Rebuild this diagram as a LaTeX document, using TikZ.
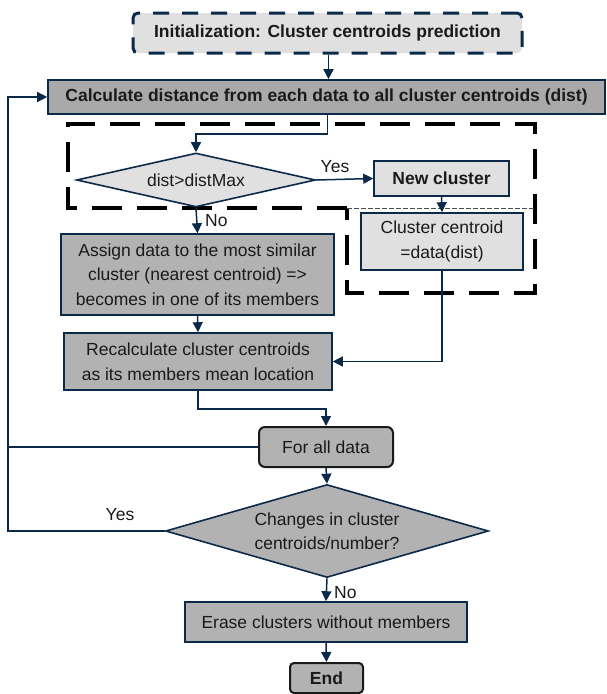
\documentclass[tikz,border=0pt]{standalone}
\usepackage{fontspec}
\setmainfont{Liberation Sans}
\usetikzlibrary{shapes.geometric,arrows.meta}
\definecolor{navy}{HTML}{0B2A4A}
\definecolor{lgray}{HTML}{E0E0E0}
\definecolor{mgray}{HTML}{B2B2B2}
\definecolor{cgray}{HTML}{A9A9A9}
\definecolor{txt}{HTML}{1A1A1A}
\tikzset{
  base/.style={draw=navy, line width=1.6pt, text=txt, inner sep=2pt, align=center, font=\fontsize{17.5}{24.5}\selectfont},
  bld/.style={font=\bfseries\fontsize{17.5}{20}\selectfont},
  lightbox/.style={base, rectangle, fill=lgray},
  darkbox/.style={base, rectangle, fill=mgray},
  decbox/.style={draw=navy, line width=1.6pt, diamond, inner sep=0pt},
  dtext/.style={text=txt, align=center, inner sep=0pt, font=\fontsize{17.5}{24.5}\selectfont},
  arr/.style={draw=navy, line width=1.5pt, -{Triangle[length=10pt,width=10pt]}},
  ln/.style={draw=navy, line width=1.5pt},
  lbl/.style={text=txt, font=\fontsize{17.5}{20}\selectfont, inner sep=0pt}
}
\begin{document}
\begin{tikzpicture}[x=1pt,y=-1pt]
\useasboundingbox (0,0) rectangle (606,694);
% dashed groups
\draw[black, line width=3.5pt, dash pattern=on 30pt off 15pt]
  (347,208) -- (68,208) -- (68,124) -- (535,124) -- (535,293) -- (347,293) -- (347,208);
\draw[black!70, line width=0.6pt, dash pattern=on 5pt off 2pt] (347,208) -- (535,208);
% nodes
\node[lightbox, bld, rounded corners=5pt, line width=3pt, dash pattern=on 16pt off 13pt,
      minimum width=389pt, minimum height=40pt]
  (init) at (327.5,33) {Initialization: Cluster centroids prediction};
\node[darkbox, bld, fill=cgray, minimum width=557pt, minimum height=34pt]
  (calc) at (326.5,97) {Calculate distance from each data to all cluster centroids (dist)};
\node[decbox, fill=lgray, minimum width=239pt, minimum height=54pt] (d1) at (196,180) {};
\node[dtext] (d1t) at (d1.center) {dist>distMax};
\node[lightbox, bld, minimum width=135pt, minimum height=35pt]
  (newc) at (441.5,178.5) {New cluster};
\node[lightbox, minimum width=162pt, minimum height=57pt] (cc) at (442,241.5) {Cluster centroid\\=data(dist)};
\node[darkbox, minimum width=273pt, minimum height=81pt] (assign) at (197.5,274.5)
  {Assign data to the most similar\\cluster (nearest centroid) =>\\becomes in one of its members};
\node[darkbox, minimum width=268pt, minimum height=57pt] (recalc) at (198,361.5)
  {Recalculate cluster centroids\\as its members mean location};
\node[darkbox, draw=txt, rounded corners=6pt, line width=2pt, minimum width=134pt, minimum height=40pt]
  (forall) at (326,447) {For all data};
\node[decbox, fill=mgray, minimum width=323pt, minimum height=93pt] (d2) at (327,531) {};
\node[dtext] (d2t) at (d2.center) {Changes in cluster\\centroids/number?};
\node[darkbox, minimum width=282pt, minimum height=40pt] (erase) at (326,622) {Erase clusters without members};
\node[darkbox, bld, draw=txt, rounded corners=4pt, line width=2pt, minimum width=73pt, minimum height=30pt]
  (end) at (326.5,678) {End};
% labels
\node[lbl] (yes1) at (335,167) {Yes};
\node[lbl, anchor=west] (no1) at (205,221) {No};
\node[lbl] (yes2) at (120,515) {Yes};
\node[lbl, anchor=west] (no2) at (334,593) {No};
% coordinates for loop
\coordinate (lt) at (8,97);
\coordinate (lb) at (8,531);
% connectors
\draw[arr] ([xshift=1pt]init.south) -- ([xshift=1pt]init.south |- calc.north);
\draw[arr] ([xshift=1pt]calc.south) -- ++(0,19) -| (d1.north);
\draw[arr] (d1.east) -- (newc.west);
\draw[arr] (newc.south) -- (cc.north);
\draw[arr] (d1.south) -- (assign.north);
\draw[arr] (assign.south) -- (recalc.north);
\draw[arr] (cc.south) |- (recalc.east);
\draw[arr] (recalc.south) -- ++(0,18) -| (forall.north);
\draw[arr] (forall.south) -- (d2.north);
\draw[ln] (forall.west) -- (forall.west -| lt);
\draw[arr] (d2.west) -- (lb) -- (lt) -- (calc.west);
\draw[arr] (d2.south) -- (erase.north);
\draw[arr] (erase.south) -- (end.north);
\end{tikzpicture}
\end{document}
